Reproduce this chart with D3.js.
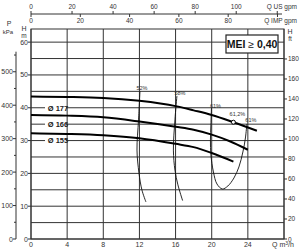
<!DOCTYPE html>
<html><head><meta charset="utf-8">
<script src="https://cdn.jsdelivr.net/npm/d3@7"></script>
<style>
html,body{margin:0;padding:0;background:#fff;}
svg{display:block;font-family:"Liberation Sans",Arial,sans-serif;}
</style></head>
<body>
<svg id="c" width="300" height="250"></svg>
<script>
// ---- data ----
const qTicks = [0,4,8,12,16,20,24];
const qGrid = [0,4,8,12,16,20,24,28];
const hTicks = [0,10,20,30,40,50,60];
const hGrid = [0,5,10,15,20,25,30,35,40,45,50,55,60];
const pTicks = [0,100,200,300,400,500];
const pMinor = [50,150,250,350,450,550];
const ftTicks = [0,20,40,60,80,100,120,140,160,180];
const usTicks = [0,20,40,60,80,100];
const impTicks = [0,20,40,60,80];

const curveNames = ["Ø 177","Ø 166","Ø 155"];
const labelH = [40,35,30];
const q177 = [0,4,8,12,16,18,20,22.4,25];
const h177 = [43.4,43.3,43.0,42.1,40.5,39.2,37.8,35.6,33.0];
const q166 = [0,4,8,12,16,18,20,22,24];
const h166 = [37.8,37.6,37.1,35.8,34.2,33.3,31.8,29.8,27.2];
const q155 = [0,4,8,12,16,18,20,22.4];
const h155 = [32.2,32.0,31.6,30.7,29.0,28.0,26.2,23.6];

const e52Q = [12.06,11.9,11.73,11.95,12.28,12.72];
const e52H = [45.1,36.3,27.1,20.1,14.9,11.3];
const e58Q = [16.15,15.93,15.76,15.93,16.26,16.78];
const e58H = [43.6,36.3,27.1,21.0,16.5,11.7];
const e61Q = [19.97,19.91,19.86,19.91,20.19,20.58,21.18,21.79,22.46,23.01,23.45,23.73,23.89];
const e61H = [39.94,34.76,30.18,25.61,20.43,16.77,15.24,16.16,18.60,21.95,26.52,30.79,35.06];
const bepQ = 22.4, bepH = 35.6;

const US_PER = 4.403, IMP_PER = 3.666, KPA_PER_M = 9.81, FT_PER_M = 3.2808;

// ---- scales ----
const svg = d3.select("#c");
const x = d3.scaleLinear().domain([0,28]).range([31,284]);
const y = d3.scaleLinear().domain([0,64]).range([239,29]);
const grid = "#333", txt = "#333";

// grid
const g = svg.append("g");
g.selectAll(".hg").data(hGrid).join("line")
  .attr("x1",x(0)).attr("x2",x(28)).attr("y1",d=>y(d)).attr("y2",d=>y(d))
  .attr("stroke",grid).attr("stroke-width",1);
g.selectAll(".vg").data(qGrid).join("line")
  .attr("x1",d=>x(d)).attr("x2",d=>x(d)).attr("y1",y(0)).attr("y2",y(64))
  .attr("stroke",grid).attr("stroke-width",1);
g.append("rect").attr("x",x(0)).attr("y",y(64)).attr("width",x(28)-x(0)).attr("height",y(0)-y(64))
  .attr("fill","none").attr("stroke",grid).attr("stroke-width",1);

// bottom axis
const fs = 7;
svg.append("g").selectAll("text").data(qTicks).join("text")
  .attr("x",d=>x(d)).attr("y",247).attr("text-anchor","middle")
  .attr("font-size",fs).attr("fill",txt).text(d=>d);
const ql = svg.append("text").attr("x",272).attr("y",247).attr("font-size",fs).attr("fill",txt);
ql.append("tspan").text("Q m");
ql.append("tspan").attr("font-size",5).attr("dy",-2.5).text("3");
ql.append("tspan").attr("dy",2.5).text("/h");

// H m axis (left)
svg.append("g").selectAll("line").data(hTicks).join("line")
  .attr("x1",28).attr("x2",x(0)).attr("y1",d=>y(d)).attr("y2",d=>y(d))
  .attr("stroke",grid);
svg.append("g").selectAll("text").data(hTicks).join("text")
  .attr("x",28).attr("y",d=>y(d)+2.5).attr("text-anchor","end")
  .attr("font-size",fs).attr("fill",txt).text(d=>d);
svg.append("text").attr("x",24).attr("y",31).attr("text-anchor","middle").attr("font-size",7).attr("fill",txt).text("H");
svg.append("text").attr("x",24).attr("y",38).attr("text-anchor","middle").attr("font-size",6.5).attr("fill",txt).text("m");

// P kPa axis
const yP = d => y(d/KPA_PER_M);
svg.append("line").attr("x1",16).attr("x2",16).attr("y1",yP(0)).attr("y2",yP(560)).attr("stroke",grid);
svg.append("g").selectAll("line").data(pTicks).join("line")
  .attr("x1",13).attr("x2",16).attr("y1",yP).attr("y2",yP).attr("stroke",grid);
svg.append("g").selectAll("line").data(pMinor).join("line")
  .attr("x1",14).attr("x2",16).attr("y1",yP).attr("y2",yP).attr("stroke",grid);
svg.append("g").selectAll("text").data(pTicks).join("text")
  .attr("x",13).attr("y",d=>yP(d)+2.5).attr("text-anchor","end")
  .attr("font-size",fs).attr("fill",txt).text(d=>d);
svg.append("text").attr("x",9).attr("y",26).attr("text-anchor","middle").attr("font-size",7).attr("fill",txt).text("P");
svg.append("text").attr("x",8).attr("y",33.5).attr("text-anchor","middle").attr("font-size",6).attr("fill",txt).text("kPa");

// ft axis right
const yF = d => y(d/FT_PER_M);
svg.append("g").selectAll("line").data(ftTicks).join("line")
  .attr("x1",x(28)).attr("x2",x(28)+3).attr("y1",yF).attr("y2",yF).attr("stroke",grid);
svg.append("g").selectAll("text").data(ftTicks).join("text")
  .attr("x",288).attr("y",d=>yF(d)+2.5)
  .attr("font-size",6.5).attr("fill",txt).text(d=>d);
svg.append("text").attr("x",290).attr("y",34).attr("text-anchor","middle").attr("font-size",7).attr("fill",txt).text("H");
svg.append("text").attr("x",290).attr("y",41).attr("text-anchor","middle").attr("font-size",6.5).attr("fill",txt).text("ft");

// top axes
const xUS = d => x(d/US_PER), xIMP = d => x(d/IMP_PER);
svg.append("line").attr("x1",x(0)).attr("x2",282).attr("y1",14).attr("y2",14).attr("stroke",grid);
svg.append("g").selectAll("line").data(usTicks.concat([120])).join("line")
  .attr("x1",xUS).attr("x2",xUS).attr("y1",11).attr("y2",14).attr("stroke",grid);
svg.append("g").selectAll("line").data(impTicks.concat([100])).join("line")
  .attr("x1",xIMP).attr("x2",xIMP).attr("y1",14).attr("y2",17).attr("stroke",grid);
svg.append("g").selectAll("text").data(usTicks).join("text")
  .attr("x",xUS).attr("y",9).attr("text-anchor","middle").attr("font-size",6.5).attr("fill",txt).text(d=>d);
svg.append("g").selectAll("text").data(impTicks).join("text")
  .attr("x",xIMP).attr("y",22.5).attr("text-anchor","middle").attr("font-size",6.5).attr("fill",txt).text(d=>d);
svg.append("text").attr("x",297).attr("y",9).attr("text-anchor","end").attr("font-size",6.5).attr("fill",txt).text("Q US gpm");
svg.append("text").attr("x",297).attr("y",22.5).attr("text-anchor","end").attr("font-size",6.5).attr("fill",txt).text("Q IMP gpm");

// efficiency curves
const effLine = d3.line().x(d=>x(d[0])).y(d=>y(d[1])).curve(d3.curveCatmullRom.alpha(0.5));
[[e52Q,e52H],[e58Q,e58H],[e61Q,e61H]].forEach(([qs,hs])=>{
  svg.append("path").datum(qs.map((q,i)=>[q,hs[i]])).attr("d",effLine)
    .attr("fill","none").attr("stroke","#111").attr("stroke-width",0.9);
});

// pump curves
const pumpLine = d3.line().x(d=>x(d[0])).y(d=>y(d[1])).curve(d3.curveMonotoneX);
[[q177,h177],[q166,h166],[q155,h155]].forEach(([qs,hs])=>{
  svg.append("path").datum(qs.map((q,i)=>[q,hs[i]])).attr("d",pumpLine)
    .attr("fill","none").attr("stroke","#000").attr("stroke-width",2);
});

// curve labels
curveNames.forEach((n,i)=>{
  const cy = y(labelH[i]);
  svg.append("rect").attr("x",45).attr("y",cy-4).attr("width",21).attr("height",8).attr("fill","#fff");
  svg.append("text").attr("x",58).attr("y",cy+2.8).attr("text-anchor","middle")
    .attr("font-size",7.5).attr("font-weight","bold").attr("fill","#222").text(n);
});

// efficiency labels
const effFs = 5.5;
function effText(q,h,t,dx,dy){
  svg.append("text").attr("x",x(q)+dx).attr("y",y(h)+dy).attr("text-anchor","middle")
    .attr("font-size",effFs).attr("fill","#333").text(t);
}
effText(e52Q[0],e52H[0],"52%",2,-1);
effText(e58Q[0],e58H[0],"58%",3,-1);
effText(e61Q[0],e61H[0],"61%",4,0);
effText(e61Q[e61Q.length-1],e61H[e61H.length-1],"61%",4,-2);
effText(bepQ,bepH,"61,2%",4,-6);
svg.append("circle").attr("cx",x(bepQ)).attr("cy",y(bepH)).attr("r",2)
  .attr("fill","#fff").attr("stroke","#000").attr("stroke-width",1);

// MEI box
svg.append("rect").attr("x",226).attr("y",35).attr("width",52).attr("height",18)
  .attr("fill","#fff").attr("stroke","#222").attr("stroke-width",1.2);
const mt = svg.append("text").attr("x",252).attr("y",48).attr("text-anchor","middle")
  .attr("font-size",10.5).attr("fill","#111");
mt.append("tspan").attr("font-weight","bold").text("MEI ");
mt.append("tspan").text("≥ ");
mt.append("tspan").attr("font-weight","bold").text("0,40");
</script>
</body></html>
